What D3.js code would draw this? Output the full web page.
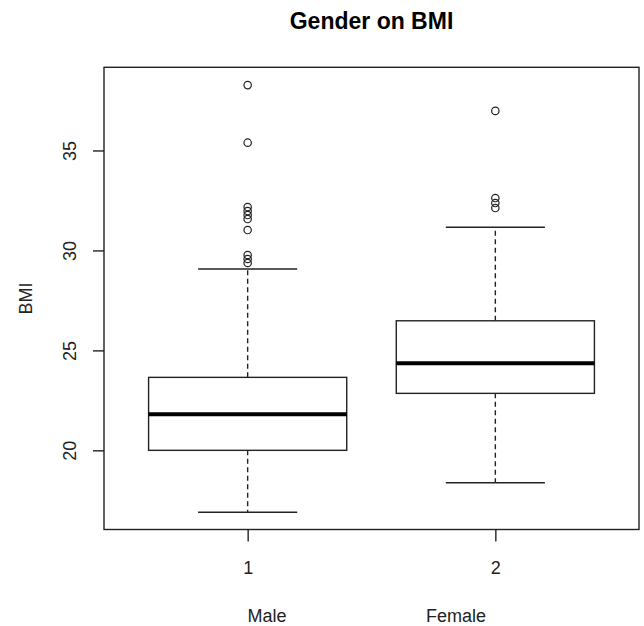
<!DOCTYPE html>
<html>
<head>
<meta charset="utf-8">
<script src="https://cdn.jsdelivr.net/npm/d3@7"></script>
<style>
  body { margin: 0; background: #fff; }
  svg { font-family: "Liberation Sans", Arial, sans-serif; }
</style>
</head>
<body>
<svg id="chart" width="644" height="626"></svg>
<script>
// box statistics
var groups = ['1', '2'];
var groupNames = ['Male', 'Female'];
var lowerWhisker = [16.9, 18.38];
var q1 = [20.0, 22.85];
var median = [21.8, 24.35];
var q3 = [23.65, 26.48];
var upperWhisker = [29.07, 31.16];
var maleOutliers = [38.27, 35.39, 32.17, 31.97, 31.77, 31.57, 31.02, 29.77, 29.57, 29.37];
var femaleOutliers = [36.98, 32.62, 32.37, 32.12];
var yTicks = [20, 25, 30, 35];

document.addEventListener('DOMContentLoaded', function () {
    drawBoxplot();
});

function drawBoxplot() {
    const svg = d3.select('#chart');
    const ink = '#222';

    const left = 104, right = 639, top = 67.3, bottom = 529.5;

    const x = d3.scaleLinear().domain([0.42, 2.58]).range([left, right]);
    const y = d3.scaleLinear().domain([16.04, 39.16]).range([bottom, top]);

    const boxHalf = (x(1.4) - x(1)) ;
    const capHalf = boxHalf / 2;

    const data = groups.map(function (g, i) {
        return {
            pos: i + 1,
            lo: lowerWhisker[i], q1: q1[i], med: median[i], q3: q3[i], hi: upperWhisker[i],
            out: i == 0 ? maleOutliers : femaleOutliers
        };
    });

    // title
    svg.append('text')
        .attr('x', (left + right) / 2)
        .attr('y', 29)
        .attr('text-anchor', 'middle')
        .attr('font-size', 23)
        .attr('font-weight', 'bold')
        .attr('fill', '#000')
        .text('Gender on BMI');

    const g = svg.append('g');

    data.forEach(function (d) {
        const cx = x(d.pos);
        // whiskers (dashed)
        g.append('line')
            .attr('x1', cx).attr('x2', cx)
            .attr('y1', y(d.q3)).attr('y2', y(d.hi))
            .attr('stroke', ink).attr('stroke-width', 1.4)
            .attr('stroke-dasharray', '5,3.5');
        g.append('line')
            .attr('x1', cx).attr('x2', cx)
            .attr('y1', y(d.q1)).attr('y2', y(d.lo))
            .attr('stroke', ink).attr('stroke-width', 1.4)
            .attr('stroke-dasharray', '5,3.5');
        // caps
        [d.lo, d.hi].forEach(function (v) {
            g.append('line')
                .attr('x1', cx - capHalf).attr('x2', cx + capHalf)
                .attr('y1', y(v)).attr('y2', y(v))
                .attr('stroke', ink).attr('stroke-width', 1.4);
        });
        // box
        g.append('rect')
            .attr('x', cx - boxHalf)
            .attr('y', y(d.q3))
            .attr('width', boxHalf * 2)
            .attr('height', y(d.q1) - y(d.q3))
            .attr('fill', '#fff')
            .attr('stroke', ink).attr('stroke-width', 1.4);
        // median
        g.append('line')
            .attr('x1', cx - boxHalf).attr('x2', cx + boxHalf)
            .attr('y1', y(d.med)).attr('y2', y(d.med))
            .attr('stroke', '#000').attr('stroke-width', 4);
        // outliers
        g.selectAll(null)
            .data(d.out)
            .enter()
            .append('circle')
            .attr('cx', cx)
            .attr('cy', v => y(v))
            .attr('r', 3.7)
            .attr('fill', 'none')
            .attr('stroke', ink)
            .attr('stroke-width', 1.2);
    });

    // frame
    svg.append('rect')
        .attr('x', left).attr('y', top)
        .attr('width', right - left).attr('height', bottom - top)
        .attr('fill', 'none')
        .attr('stroke', ink).attr('stroke-width', 1.4);

    // y axis
    const yAxis = svg.append('g')
        .attr('transform', `translate(${left},0)`)
        .call(d3.axisLeft(y).tickValues(yTicks).tickSize(11).tickPadding(0).tickFormat(d3.format('d')));
    yAxis.select('.domain').remove();
    yAxis.selectAll('line').attr('stroke', ink).attr('stroke-width', 1.4);
    yAxis.selectAll('text')
        .attr('font-size', 18)
        .attr('fill', ink)
        .attr('text-anchor', 'middle')
        .attr('dy', null)
        .attr('x', null)
        .attr('transform', 'translate(-34,0) rotate(-90)')
        .attr('dominant-baseline', 'central');

    // x axis
    const xAxis = svg.append('g')
        .attr('transform', `translate(0,${bottom})`)
        .call(d3.axisBottom(x).tickValues([1, 2]).tickSize(12).tickPadding(0)
            .tickFormat(function (d, i) { return groups[i]; }));
    xAxis.select('.domain').remove();
    xAxis.selectAll('line').attr('stroke', ink).attr('stroke-width', 1.4);
    xAxis.selectAll('text')
        .attr('font-size', 18)
        .attr('fill', ink)
        .attr('dy', null)
        .attr('y', 44);

    // group names under the axis
    const namePos = [267, 456];
    svg.selectAll('.gname')
        .data(groupNames)
        .enter()
        .append('text')
        .attr('class', 'gname')
        .attr('x', (d, i) => namePos[i])
        .attr('y', 621.5)
        .attr('text-anchor', 'middle')
        .attr('font-size', 18)
        .attr('fill', ink)
        .text(d => d);

    // y label
    svg.append('text')
        .attr('transform', `translate(32,${(top + bottom) / 2}) rotate(-90)`)
        .attr('text-anchor', 'middle')
        .attr('font-size', 18)
        .attr('fill', ink)
        .text('BMI');
}
</script>
</body>
</html>
